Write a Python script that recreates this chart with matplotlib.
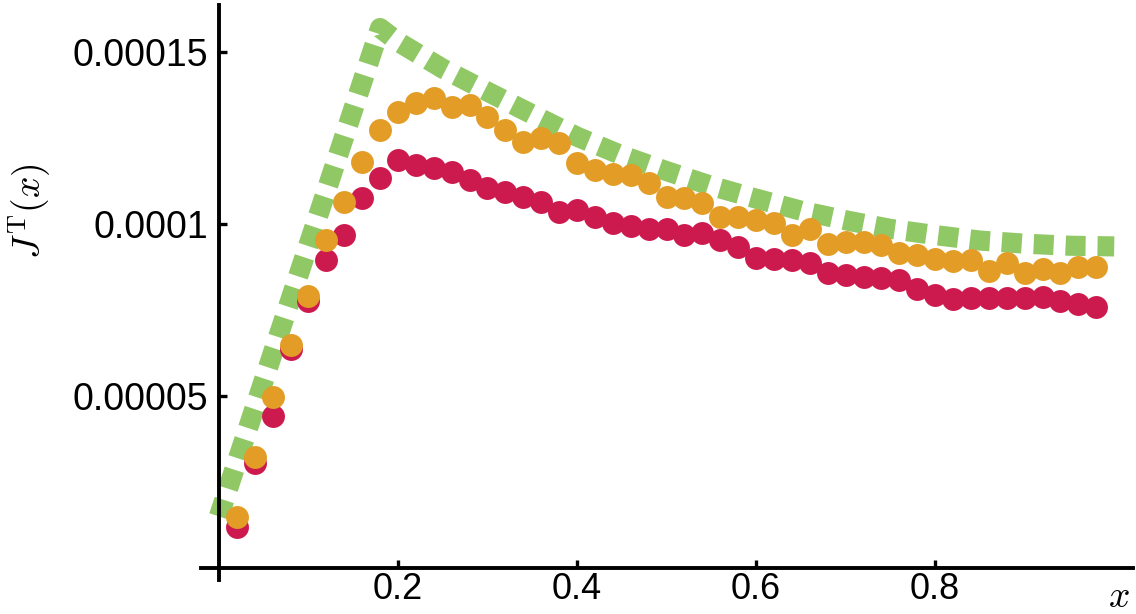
import matplotlib
matplotlib.use("Agg")
import matplotlib.pyplot as plt

plt.rcParams['lines.scale_dashes'] = False
plt.rcParams['mathtext.fontset'] = 'cm'

x_pts = [0.02, 0.04, 0.06, 0.08, 0.10, 0.12, 0.14, 0.16, 0.18, 0.20,
         0.22, 0.24, 0.26, 0.28, 0.30, 0.32, 0.34, 0.36, 0.38, 0.40,
         0.42, 0.44, 0.46, 0.48, 0.50, 0.52, 0.54, 0.56, 0.58, 0.60,
         0.62, 0.64, 0.66, 0.68, 0.70, 0.72, 0.74, 0.76, 0.78, 0.80,
         0.82, 0.84, 0.86, 0.88, 0.90, 0.92, 0.94, 0.96, 0.98]

red_vals = [1.19e-5, 3.05e-5, 4.42e-5, 6.37e-5, 7.76e-5, 8.95e-5, 9.68e-5, 1.076e-4, 1.134e-4, 1.186e-4,
            1.172e-4, 1.163e-4, 1.151e-4, 1.128e-4, 1.105e-4, 1.093e-4, 1.079e-4, 1.064e-4, 1.035e-4, 1.041e-4,
            1.020e-4, 1.002e-4, 9.94e-5, 9.85e-5, 9.87e-5, 9.68e-5, 9.73e-5, 9.53e-5, 9.34e-5, 9.00e-5,
            8.98e-5, 8.95e-5, 8.86e-5, 8.58e-5, 8.52e-5, 8.45e-5, 8.42e-5, 8.37e-5, 8.10e-5, 7.94e-5,
            7.81e-5, 7.84e-5, 7.84e-5, 7.84e-5, 7.84e-5, 7.87e-5, 7.77e-5, 7.67e-5, 7.60e-5]

orange_vals = [1.48e-5, 3.23e-5, 4.97e-5, 6.48e-5, 7.90e-5, 9.55e-5, 1.064e-4, 1.180e-4, 1.273e-4, 1.326e-4,
               1.352e-4, 1.366e-4, 1.340e-4, 1.346e-4, 1.311e-4, 1.273e-4, 1.238e-4, 1.250e-4, 1.235e-4, 1.177e-4,
               1.157e-4, 1.147e-4, 1.142e-4, 1.120e-4, 1.079e-4, 1.075e-4, 1.060e-4, 1.021e-4, 1.021e-4, 1.012e-4,
               1.002e-4, 9.68e-5, 9.87e-5, 9.42e-5, 9.49e-5, 9.49e-5, 9.39e-5, 9.15e-5, 9.10e-5, 8.97e-5,
               8.93e-5, 8.95e-5, 8.64e-5, 8.87e-5, 8.58e-5, 8.68e-5, 8.58e-5, 8.74e-5, 8.76e-5]

green_x = [0.0, 0.18, 0.20, 0.25, 0.30, 0.35, 0.40, 0.45, 0.50, 0.55, 0.60,
           0.65, 0.70, 0.75, 0.80, 0.85, 0.90, 0.95, 1.00]
green_vals = [1.5e-5, 1.57e-4, 1.53e-4, 1.452e-4, 1.385e-4, 1.319e-4, 1.254e-4, 1.200e-4, 1.154e-4,
              1.111e-4, 1.074e-4, 1.039e-4, 1.011e-4, 9.86e-5, 9.68e-5, 9.52e-5, 9.43e-5, 9.37e-5, 9.35e-5]

x_ticks = [0.2, 0.4, 0.6, 0.8]
x_ticklabels = ['0.2', '0.4', '0.6', '0.8']
y_ticks = [0.00005, 0.0001, 0.00015]
y_ticklabels = ['0.00005', '0.0001', '0.00015']

RED = '#CD1A4E'
ORANGE = '#E39C25'
GREEN = '#8FC864'

W, H = 1136, 614
fig = plt.figure(figsize=(W / 100, H / 100), dpi=100)
ax = fig.add_axes([201 / W, 1 - 580 / H, (1133 - 201) / W, (580 - 5) / H])

ax.plot(green_x, green_vals, color=GREEN, lw=14.5, linestyle=(2, (14.4, 8.6)),
        dash_capstyle='butt', solid_joinstyle='miter', zorder=2)
ax.plot(x_pts, red_vals, 'o', color=RED, ms=16.5, mew=0, zorder=3)
ax.plot(x_pts, orange_vals, 'o', color=ORANGE, ms=16.5, mew=0, zorder=4)

ax.set_xlim(-0.02, 1.021)
ax.set_ylim(-3.5e-6, 1.637e-4)

for s in ['top', 'right']:
    ax.spines[s].set_visible(False)
ax.spines['left'].set_position(('data', 0))
ax.spines['bottom'].set_position(('data', 0))
for s in ['left', 'bottom']:
    ax.spines[s].set_linewidth(2.8)
    ax.spines[s].set_color('black')

ax.set_xticks(x_ticks)
ax.set_xticklabels(x_ticklabels)
ax.set_yticks(y_ticks)
ax.set_yticklabels(y_ticklabels)
ax.tick_params(axis='both', direction='in', length=6, width=2.4, labelsize=27)
ax.tick_params(axis='y', pad=8)
ax.tick_params(axis='x', pad=3, labelsize=26)
for lab in ax.get_xticklabels() + ax.get_yticklabels():
    lab.set_fontfamily('Liberation Sans')

ax.text(-0.211, 0.0001038, r'$J^{\mathrm{T}}(x)$', rotation=90, fontsize=27,
        ha='center', va='center', transform=ax.transData)
ax.text(1.005, -8.5e-6, r'$x$', fontsize=27, ha='center', va='center',
        transform=ax.transData, clip_on=False)

fig.savefig('out.png', dpi=100)
